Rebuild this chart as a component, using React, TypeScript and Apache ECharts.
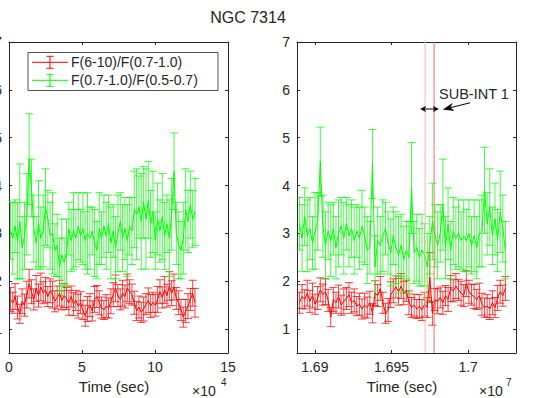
import React, { useEffect, useRef } from 'react';
import * as echarts from 'echarts';

// ---------- data ----------
const leftTime = [
  0.10, 0.26, 0.42, 0.58, 0.74, 0.90, 1.06, 1.22, 1.38, 1.54,
  1.70, 1.86, 2.02, 2.18, 2.34, 2.50, 2.66, 2.82, 2.98, 3.14,
  3.30, 3.46, 3.62, 3.78, 3.94, 4.10, 4.26, 4.42, 4.58, 4.74,
  4.90, 5.06, 5.22, 5.38, 5.54, 5.70, 5.86, 6.02, 6.18, 6.34,
  6.50, 6.66, 6.82, 6.98, 7.14, 7.30, 7.46, 7.62, 7.78, 7.94,
  8.10, 8.26, 8.42, 8.58, 8.74, 8.90, 9.06, 9.22, 9.38, 9.54,
  9.70, 9.86, 10.02, 10.18, 10.34, 10.50, 10.66, 10.82, 10.98, 11.14,
  11.30, 11.46, 11.62, 11.78, 11.94, 12.10, 12.26, 12.42, 12.58, 12.74,
];
const leftRed = [
  1.62, 1.55, 1.68, 1.45, 1.32, 1.58, 1.50, 1.72, 1.95, 1.78,
  1.62, 1.85, 1.70, 1.88, 1.76, 1.82, 1.68, 1.80, 1.72, 1.58,
  1.66, 1.75, 1.60, 1.70, 1.64, 1.55, 1.68, 1.52, 1.60, 1.48,
  1.55, 1.40, 1.28, 1.42, 1.50, 1.38, 1.62, 1.68, 1.55, 1.45,
  1.40, 1.48, 1.44, 1.58, 1.72, 1.85, 1.70, 1.62, 1.75, 1.68,
  1.86, 1.78, 1.72, 1.55, 1.38, 1.46, 1.35, 1.42, 1.52, 1.60,
  1.48, 1.56, 1.50, 1.62, 1.78, 1.66, 1.82, 1.70, 1.90, 1.75,
  1.88, 1.64, 1.55, 1.40, 1.25, 1.38, 1.48, 1.62, 1.75, 1.55,
];
const leftRedErr = [
  0.25, 0.22, 0.27, 0.24, 0.20, 0.26, 0.23, 0.28, 0.30, 0.25,
  0.22, 0.27, 0.24, 0.29, 0.23, 0.26, 0.21, 0.25, 0.28, 0.22,
  0.24, 0.27, 0.20, 0.25, 0.23, 0.26, 0.22, 0.24, 0.21, 0.25,
  0.23, 0.20, 0.22, 0.26, 0.24, 0.21, 0.27, 0.23, 0.25, 0.22,
  0.20, 0.24, 0.21, 0.26, 0.25, 0.28, 0.23, 0.22, 0.27, 0.24,
  0.29, 0.25, 0.22, 0.24, 0.20, 0.23, 0.21, 0.25, 0.22, 0.26,
  0.24, 0.21, 0.23, 0.27, 0.25, 0.22, 0.28, 0.24, 0.30, 0.26,
  0.27, 0.23, 0.25, 0.22, 0.21, 0.24, 0.26, 0.23, 0.27, 0.30,
];
const leftGreen = [
  3.05, 2.90, 3.15, 2.85, 3.25, 2.70, 2.95, 3.40, 4.55, 3.95,
  3.10, 2.80, 3.20, 2.90, 3.05, 3.55, 3.30, 2.95, 3.00, 2.65,
  2.75, 2.30, 2.55, 2.40, 2.60, 3.10, 2.85, 3.05, 2.90, 3.15,
  2.95, 3.10, 2.85, 3.00, 2.90, 3.05, 2.80, 2.65, 3.10, 2.90,
  3.15, 2.95, 3.20, 2.80, 3.05, 2.70, 3.00, 3.25, 2.90, 3.10,
  2.85, 3.15, 3.05, 3.50, 3.40, 3.55, 3.25, 3.65, 3.30, 3.70,
  3.20, 3.45, 2.85, 3.30, 3.05, 3.35, 2.95, 3.20, 2.90, 3.40,
  4.30, 3.00, 2.75, 2.65, 2.90, 3.50, 3.25, 3.60, 3.30, 3.45,
];
const leftGreenErr = [
  0.60, 0.75, 0.55, 0.80, 1.20, 0.65, 0.70, 0.85, 0.95, 0.60,
  0.70, 0.55, 0.90, 0.65, 0.75, 0.80, 0.60, 0.70, 0.85, 0.55,
  0.65, 0.60, 0.75, 0.50, 0.70, 0.55, 0.65, 0.80, 0.60, 0.70,
  0.55, 0.75, 0.60, 0.85, 0.65, 0.50, 0.70, 0.60, 0.75, 0.55,
  0.65, 0.70, 0.60, 0.75, 0.55, 0.65, 0.80, 0.60, 0.70, 0.65,
  0.75, 0.60, 0.70, 0.80, 0.95, 0.65, 1.00, 0.75, 1.05, 0.80,
  0.70, 0.85, 0.60, 0.75, 0.65, 0.90, 0.70, 0.60, 0.80, 0.75,
  0.80, 0.65, 0.70, 0.60, 0.75, 0.85, 0.65, 0.70, 0.60, 0.70,
];

const rightTime = [
  1.68900, 1.68917, 1.68934, 1.68951, 1.68968, 1.68985, 1.69002, 1.69019, 1.69036, 1.69053,
  1.69070, 1.69087, 1.69104, 1.69121, 1.69138, 1.69155, 1.69172, 1.69189, 1.69206, 1.69223,
  1.69240, 1.69257, 1.69274, 1.69291, 1.69308, 1.69325, 1.69342, 1.69359, 1.69376, 1.69393,
  1.69410, 1.69427, 1.69444, 1.69461, 1.69478, 1.69495, 1.69512, 1.69529, 1.69546, 1.69563,
  1.69580, 1.69597, 1.69614, 1.69631, 1.69648, 1.69665, 1.69682, 1.69699, 1.69716, 1.69733,
  1.69750, 1.69767, 1.69784, 1.69801, 1.69818, 1.69835, 1.69852, 1.69869, 1.69886, 1.69903,
  1.69920, 1.69937, 1.69954, 1.69971, 1.69988, 1.70005, 1.70022, 1.70039, 1.70056, 1.70073,
  1.70090, 1.70107, 1.70124, 1.70141, 1.70158, 1.70175, 1.70192, 1.70209, 1.70226, 1.70243,
];
const rightRed = [
  1.55, 1.68, 1.62, 1.75, 1.58, 1.70, 1.52, 1.65, 1.82, 1.72,
  1.78, 1.60, 1.25, 1.62, 1.55, 1.68, 1.50, 1.58, 1.64, 1.72,
  1.55, 1.60, 1.48, 1.52, 1.42, 1.50, 1.45, 1.55, 1.33, 1.75,
  1.70, 1.85, 1.55, 1.33, 1.40, 1.72, 1.80, 1.88, 1.78, 1.90,
  1.75, 1.80, 1.55, 1.45, 1.50, 1.42, 1.48, 1.40, 1.52, 1.45,
  2.08, 1.33, 1.62, 1.58, 1.66, 1.55, 1.70, 1.62, 1.85, 1.80,
  1.90, 1.82, 1.75, 1.70, 1.95, 1.78, 1.72, 1.68, 1.62, 1.70,
  1.52, 1.45, 1.48, 1.42, 1.55, 1.45, 1.65, 1.78, 1.70, 1.85,
];
const rightRedErr = [
  0.22, 0.25, 0.20, 0.27, 0.23, 0.26, 0.21, 0.24, 0.25, 0.22,
  0.27, 0.23, 0.20, 0.25, 0.22, 0.24, 0.21, 0.26, 0.23, 0.25,
  0.22, 0.24, 0.20, 0.23, 0.21, 0.25, 0.22, 0.24, 0.20, 0.26,
  0.23, 0.25, 0.22, 0.21, 0.24, 0.27, 0.25, 0.23, 0.28, 0.26,
  0.24, 0.22, 0.25, 0.21, 0.23, 0.20, 0.24, 0.22, 0.25, 0.21,
  0.52, 0.25, 0.23, 0.26, 0.22, 0.24, 0.21, 0.25, 0.27, 0.23,
  0.26, 0.22, 0.25, 0.23, 0.27, 0.24, 0.22, 0.25, 0.21, 0.26,
  0.23, 0.20, 0.24, 0.22, 0.25, 0.21, 0.26, 0.24, 0.22, 0.25,
];
const rightGreen = [
  3.20, 2.90, 3.35, 2.95, 3.10, 2.80, 3.05, 3.25, 4.50, 3.15,
  2.75, 3.05, 2.85, 3.10, 2.70, 3.00, 3.15, 2.90, 3.20, 2.95,
  3.10, 2.85, 3.05, 2.90, 3.15, 2.95, 2.65, 2.70, 4.45, 2.30,
  2.85, 2.75, 2.95, 3.10, 2.80, 2.60, 2.95, 2.70, 2.55, 2.75,
  2.45, 2.65, 2.50, 3.95, 2.60, 2.70, 2.50, 2.65, 2.55, 2.30,
  2.75, 3.25, 2.95, 2.75, 3.00, 3.60, 2.70, 3.20, 2.65, 3.05,
  2.90, 3.00, 2.85, 2.95, 2.85, 3.00, 2.75, 2.95, 2.70, 3.00,
  3.05, 3.90, 3.20, 3.55, 2.95, 3.30, 2.85, 3.45, 3.10, 2.65,
];
const rightGreenErr = [
  0.55, 0.70, 0.60, 0.75, 0.65, 0.55, 0.80, 0.60, 0.72, 0.65,
  0.70, 0.60, 0.75, 0.55, 0.65, 0.70, 0.60, 0.75, 0.55, 0.65,
  0.60, 0.70, 0.55, 0.65, 0.75, 0.60, 0.70, 0.55, 0.72, 0.65,
  0.70, 0.60, 0.75, 0.55, 0.65, 0.70, 0.60, 0.75, 0.80, 0.65,
  0.70, 0.60, 0.75, 0.95, 0.65, 0.70, 0.60, 0.75, 0.65, 0.70,
  0.60, 0.80, 0.65, 0.70, 0.60, 0.95, 0.65, 0.75, 0.60, 0.70,
  0.65, 0.70, 0.60, 0.75, 0.65, 0.70, 0.60, 0.75, 0.65, 0.70,
  0.75, 0.90, 0.65, 0.80, 0.60, 0.75, 0.65, 0.85, 0.70, 0.60,
];

const seriesNames = ['F(6-10)/F(0.7-1.0)', 'F(0.7-1.0)/F(0.5-0.7)'];
const leftXTicks = [0, 5, 10, 15];
const rightXTicks = [1.69, 1.695, 1.7];
const yTicks = [1, 2, 3, 4, 5, 6, 7];
const subIntBounds = [1.69719, 1.69778];
const subIntColors = ['#ffb3b3', '#ff6666'];
const subIntLabel = 'SUB-INT 1';
const subIntArrowY = 5.6;
const subIntArrowX = [1.69690, 1.69806];
const subIntLabelAt = [1.69810, 5.91];
const pointerFrom = [1.70013, 5.73];
const pointerTo = [1.69838, 5.59];

// ---------- styling ----------
const FONT = '"Liberation Sans", Arial, Helvetica, sans-serif';
const AX = '#262626';
const RED = '#ff0000';
const GREEN = '#00ff00';
const Y_MIN = 0.5;
const Y_MAX = 7;

function errorBars(xi: number, times: number[], vals: number[], errs: number[], color: string) {
  return {
    type: 'custom',
    xAxisIndex: xi,
    yAxisIndex: xi,
    clip: true,
    encode: { x: 0, y: 1 },
    data: times.map((t, i) => [t, vals[i], errs[i]]),
    renderItem: (params: any, api: any) => {
      const x = api.value(0), y = api.value(1), e = api.value(2);
      const hi = api.coord([x, y + e]);
      const lo = api.coord([x, y - e]);
      const hw = 4;
      const style = { stroke: color, lineWidth: 1, opacity: 0.75 };
      return {
        type: 'group',
        children: [
          { type: 'line', shape: { x1: hi[0], y1: hi[1], x2: lo[0], y2: lo[1] }, style },
          { type: 'line', shape: { x1: hi[0] - hw, y1: hi[1], x2: hi[0] + hw, y2: hi[1] }, style },
          { type: 'line', shape: { x1: lo[0] - hw, y1: lo[1], x2: lo[0] + hw, y2: lo[1] }, style },
        ],
      };
    },
    z: 2,
  };
}

function lineSeries(xi: number, times: number[], vals: number[], color: string, name: string) {
  return {
    type: 'line',
    name,
    xAxisIndex: xi,
    yAxisIndex: xi,
    data: times.map((t, i) => [t, vals[i]]),
    showSymbol: false,
    symbol: 'none',
    lineStyle: { color, width: 1 },
    z: 3,
  };
}

function boundLines(xi: number) {
  return {
    type: 'custom',
    xAxisIndex: xi,
    yAxisIndex: xi,
    clip: true,
    encode: { x: 0 },
    data: subIntBounds.map((b, i) => [b, i]),
    renderItem: (params: any, api: any) => {
      const x = api.value(0);
      const i = api.value(1);
      const top = api.coord([x, Y_MAX]);
      const bot = api.coord([x, Y_MIN]);
      return {
        type: 'line',
        shape: { x1: top[0], y1: top[1], x2: bot[0], y2: bot[1] },
        style: { stroke: subIntColors[i], lineWidth: 1 },
      };
    },
    z: 4,
  };
}

const axisLine = { show: true, onZero: false, lineStyle: { color: AX, width: 1 } };
const tick = { show: true, inside: true, length: 3, lineStyle: { color: AX } };
const label = { color: AX, fontSize: 14, fontFamily: FONT };

function xAxes() {
  const base = (grid: number, pos: string) => ({
    type: 'value', gridIndex: grid, position: pos,
    axisLine, splitLine: { show: false },
  });
  return [
    { ...base(0, 'bottom'), min: 0, max: 15, interval: 5,
      axisTick: tick, axisLabel: { ...label, margin: 7, showMinLabel: true, showMaxLabel: true } },
    { ...base(1, 'bottom'), min: 1.68884, max: 1.70312,
      axisTick: { ...tick, customValues: rightXTicks },
      axisLabel: { ...label, margin: 7, customValues: rightXTicks, formatter: (v: number) => String(Number(v.toFixed(4))) } },
    { ...base(0, 'top'), min: 0, max: 15, interval: 5,
      axisTick: tick, axisLabel: { show: false } },
    { ...base(1, 'top'), min: 1.68884, max: 1.70312,
      axisTick: { ...tick, customValues: rightXTicks }, axisLabel: { show: false } },
  ];
}

function yAxes() {
  const base = (grid: number, pos: string) => ({
    type: 'value', gridIndex: grid, position: pos, min: Y_MIN, max: Y_MAX,
    axisLine, splitLine: { show: false },
    axisTick: { ...tick, customValues: yTicks },
  });
  return [
    { ...base(0, 'left'), axisLabel: { ...label, margin: 7, customValues: yTicks } },
    { ...base(1, 'left'), axisLabel: { ...label, margin: 7, customValues: yTicks } },
    { ...base(0, 'right'), axisLabel: { show: false } },
    { ...base(1, 'right'), axisLabel: { show: false } },
  ];
}

function staticGraphics() {
  const txt = (x: number, y: number, text: string, size: number, align = 'center') => ({
    type: 'text', x, y, z: 10,
    style: { text, fontSize: size, fontFamily: FONT, fill: AX, align, verticalAlign: 'middle' },
  });
  const legendEntry = (y: number, color: string, text: string) => ([
    { type: 'line', z: 11, shape: { x1: 32, y1: y, x2: 68, y2: y }, style: { stroke: color, lineWidth: 1 } },
    { type: 'line', z: 11, shape: { x1: 50, y1: y - 6, x2: 50, y2: y + 6 }, style: { stroke: color, lineWidth: 1 } },
    { type: 'line', z: 11, shape: { x1: 46.5, y1: y - 6, x2: 53.5, y2: y - 6 }, style: { stroke: color, lineWidth: 1 } },
    { type: 'line', z: 11, shape: { x1: 46.5, y1: y + 6, x2: 53.5, y2: y + 6 }, style: { stroke: color, lineWidth: 1 } },
    { type: 'text', z: 11, x: 71, y, style: { text, fontSize: 14, fontFamily: FONT, fill: AX, align: 'left', verticalAlign: 'middle' } },
  ]);
  return [
    txt(248, 17, 'NGC 7314', 16),
    txt(114, 386, 'Time (sec)', 15),
    txt(402, 386, 'Time (sec)', 15),
    txt(192, 391, '×10', 14, 'left'),
    txt(221, 382, '4', 10, 'left'),
    txt(479, 391, '×10', 14, 'left'),
    txt(506, 382, '7', 10, 'left'),
    { type: 'rect', z: 10, shape: { x: 28, y: 52.5, width: 190, height: 38 },
      style: { fill: '#ffffff', stroke: AX, lineWidth: 0.8 } },
    ...legendEntry(62.3, RED, seriesNames[0]),
    ...legendEntry(80.3, GREEN, seriesNames[1]),
  ];
}

function annotationGraphics(chart: any) {
  const px = (p: number[]) => chart.convertToPixel({ seriesIndex: 5 }, p) as number[];
  const a = px([subIntArrowX[0], subIntArrowY]);
  const b = px([subIntArrowX[1], subIntArrowY]);
  const lab = px(subIntLabelAt);
  const f = px(pointerFrom);
  const t = px(pointerTo);
  const black = { fill: '#000000', stroke: '#000000', lineWidth: 0.5 };
  const hl = 5, hw = 2.6;
  const dx = t[0] - f[0], dy = t[1] - f[1];
  const L = Math.sqrt(dx * dx + dy * dy);
  const ux = dx / L, uy = dy / L;
  const nx = -uy, ny = ux;
  const H = 10, W = 3.6;
  const bx = t[0] - ux * H, by = t[1] - uy * H;
  const nk = t[0] - ux * H * 0.7, nky = t[1] - uy * H * 0.7;
  return [
    { type: 'line', z: 12, shape: { x1: a[0] + 2, y1: a[1], x2: b[0] - 2, y2: b[1] }, style: { stroke: '#000', lineWidth: 1 } },
    { type: 'polygon', z: 12, shape: { points: [[a[0], a[1]], [a[0] + hl, a[1] - hw], [a[0] + hl * 0.75, a[1]], [a[0] + hl, a[1] + hw]] }, style: black },
    { type: 'polygon', z: 12, shape: { points: [[b[0], b[1]], [b[0] - hl, b[1] - hw], [b[0] - hl * 0.75, b[1]], [b[0] - hl, b[1] + hw]] }, style: black },
    { type: 'line', z: 12, shape: { x1: f[0], y1: f[1], x2: nk, y2: nky }, style: { stroke: '#000', lineWidth: 1 } },
    { type: 'polygon', z: 12, shape: { points: [[t[0], t[1]], [bx + nx * W, by + ny * W], [nk, nky], [bx - nx * W, by - ny * W]] }, style: black },
    { type: 'text', z: 12, x: lab[0], y: lab[1],
      style: { text: subIntLabel, fontSize: 14.5, fontFamily: FONT, fill: AX, align: 'left', verticalAlign: 'middle' } },
  ];
}

export default function App() {
  const ref = useRef<HTMLDivElement>(null);
  useEffect(() => {
    if (!ref.current) return;
    const chart = echarts.init(ref.current, undefined, { renderer: 'svg' });
    const option: any = {
      animation: false,
      backgroundColor: '#ffffff',
      grid: [
        { left: 9, top: 42, width: 219, height: 311, containLabel: false, outerBoundsMode: 'none' },
        { left: 297, top: 42, width: 219, height: 311, containLabel: false, outerBoundsMode: 'none' },
      ],
      xAxis: xAxes(),
      yAxis: yAxes(),
      series: [
        errorBars(0, leftTime, leftRed, leftRedErr, RED),
        lineSeries(0, leftTime, leftRed, RED, seriesNames[0]),
        errorBars(0, leftTime, leftGreen, leftGreenErr, GREEN),
        lineSeries(0, leftTime, leftGreen, GREEN, seriesNames[1]),
        errorBars(1, rightTime, rightRed, rightRedErr, RED),
        lineSeries(1, rightTime, rightRed, RED, seriesNames[0]),
        errorBars(1, rightTime, rightGreen, rightGreenErr, GREEN),
        lineSeries(1, rightTime, rightGreen, GREEN, seriesNames[1]),
        boundLines(1),
      ],
    };
    chart.setOption(option);
    chart.setOption({ graphic: [...staticGraphics(), ...annotationGraphics(chart)] });
    return () => chart.dispose();
  }, []);
  return (
    <div
      ref={ref}
      style={{ position: 'fixed', left: 0, top: 0, width: 538, height: 398, background: '#fff' }}
    />
  );
}
